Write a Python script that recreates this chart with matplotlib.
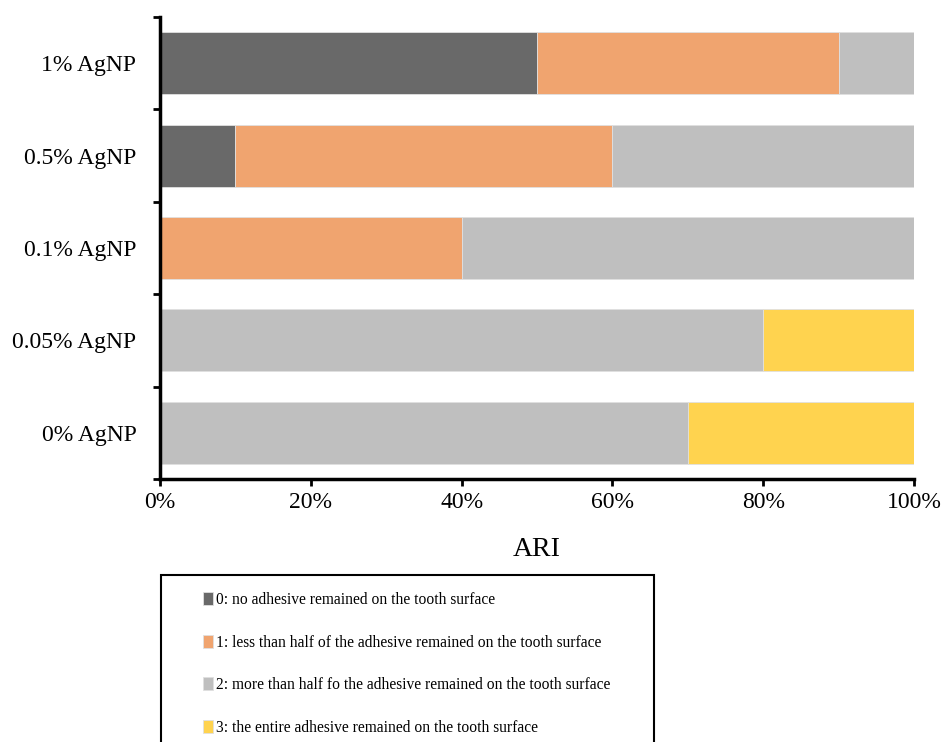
import matplotlib.pyplot as plt
from matplotlib.patches import Rectangle
from matplotlib.ticker import FuncFormatter

plt.rcParams['font.family'] = ['Liberation Serif', 'DejaVu Serif']

groups = ['0% AgNP', '0.05% AgNP', '0.1% AgNP', '0.5% AgNP', '1% AgNP']
score0 = [0, 0, 0, 10, 50]
score1 = [0, 0, 40, 50, 40]
score2 = [70, 80, 60, 40, 10]
score3 = [30, 20, 0, 0, 0]
labels = ['0: no adhesive remained on the tooth surface',
          '1: less than half of the adhesive remained on the tooth surface',
          '2: more than half fo the adhesive remained on the tooth surface',
          '3: the entire adhesive remained on the tooth surface']
colours = ['#696969', '#F0A46F', '#BFBFBF', '#FFD34F']

fig = plt.figure(figsize=(9.42, 7.42), dpi=100)
ax = fig.add_axes([160/942, 1-479/742, 754/942, 462/742])

y = list(range(len(groups)))
left = [0] * len(groups)
handles = []
for vals, col, lab in zip([score0, score1, score2, score3], colours, labels):
    b = ax.barh(y, vals, left=left, height=0.67, color=col, edgecolor='#E0E0E0', linewidth=0.6, label=lab)
    handles.append(b)
    left = [l + v for l, v in zip(left, vals)]

ax.set_xlim(0, 100)
ax.set_ylim(-0.5, 4.5)
ax.set_xticks(range(0, 101, 20))
ax.xaxis.set_major_formatter(FuncFormatter(lambda v, p: f'{int(v)}%'))
ax.set_yticks([i - 0.5 for i in range(6)])
ax.set_yticklabels([])
ax.set_yticks(y, minor=True)
ax.set_yticklabels(groups, minor=True)
ax.tick_params(axis='y', which='minor', length=0, labelsize=17, pad=17)
ax.tick_params(axis='y', which='major', length=5, width=2, direction='out')
ax.tick_params(axis='x', length=5, width=2, direction='out', labelsize=17, pad=4)
for s in ['top', 'right']:
    ax.spines[s].set_visible(False)
for s in ['left', 'bottom']:
    ax.spines[s].set_linewidth(2.5)
ax.set_xlabel('ARI', fontsize=20, labelpad=18)

# legend box (runs off the bottom edge)
fig.patches.append(Rectangle((161/942, -0.02), (654-161)/942, (1-575/742) + 0.02,
                             transform=fig.transFigure, fill=False, edgecolor='black', linewidth=1.5))
fig.legend(handles=handles, loc='upper left', bbox_to_anchor=(197/942, 1-586/742),
           frameon=False, fontsize=11.2, handlelength=0.6, handleheight=0.9,
           handletextpad=0.25, labelspacing=1.7, borderaxespad=0)

fig.savefig('out.png', dpi=100)
